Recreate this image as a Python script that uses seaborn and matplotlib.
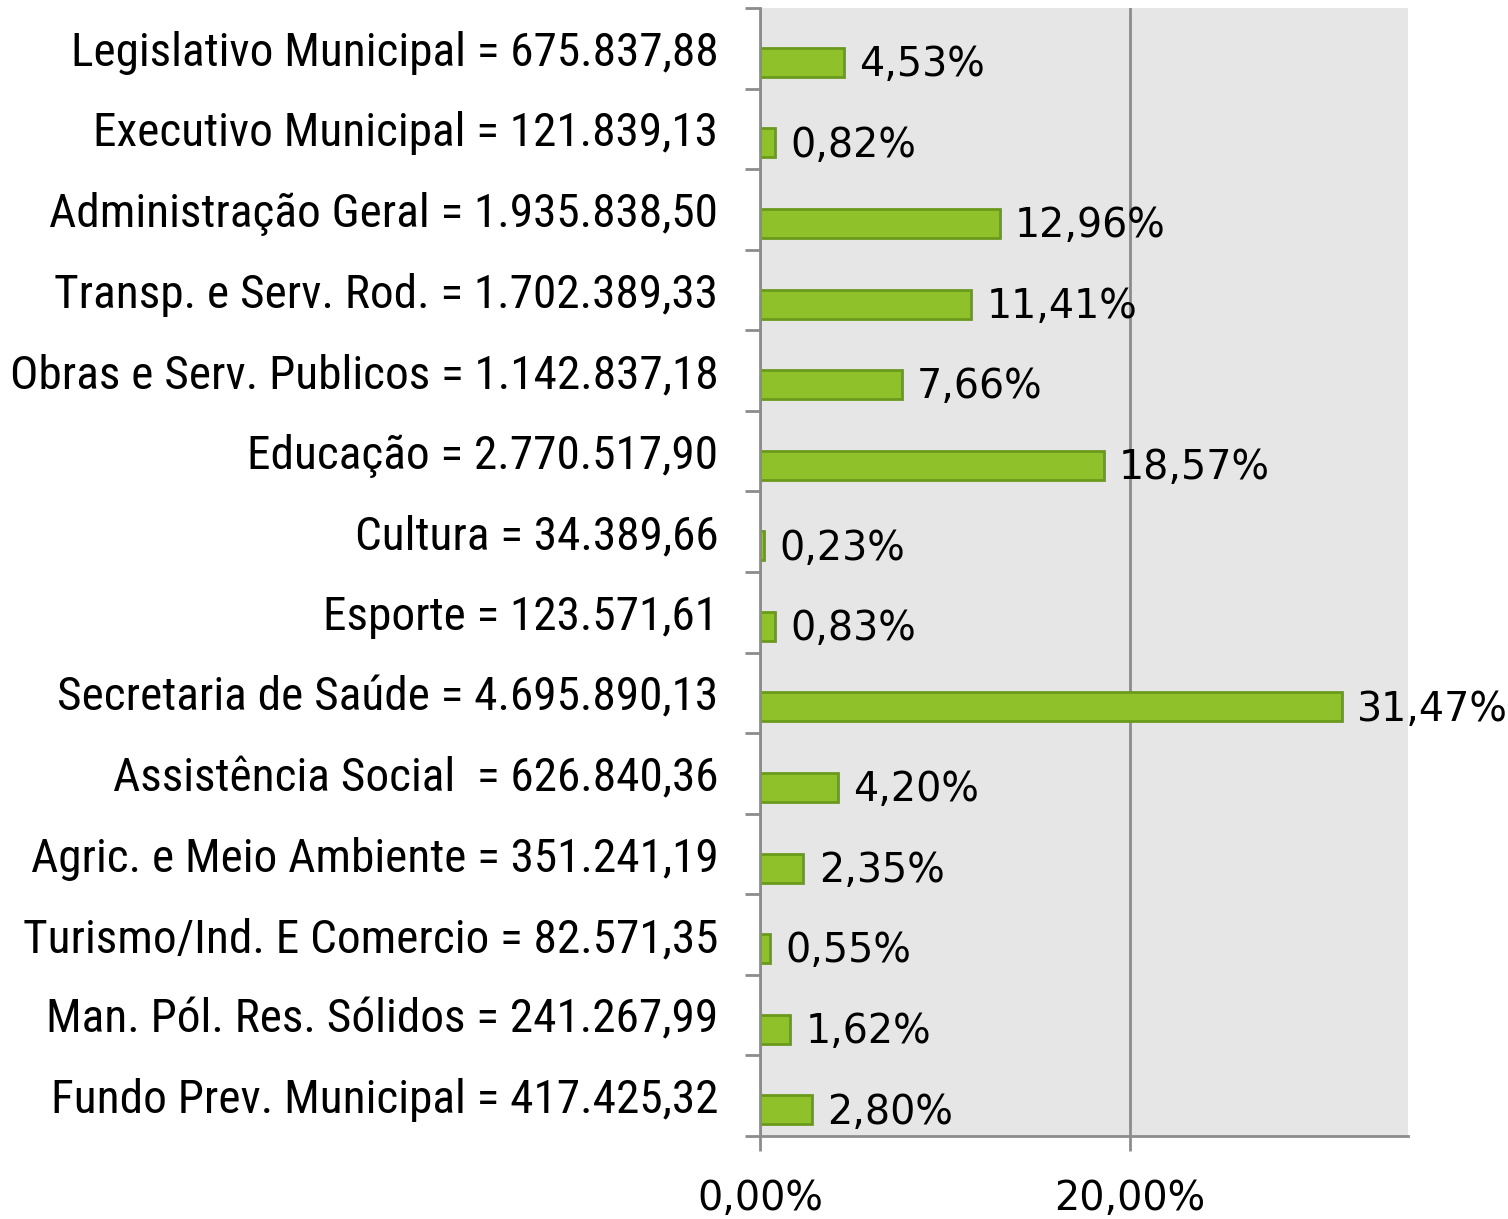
import pandas as pd
import matplotlib
matplotlib.use("Agg")
import matplotlib.pyplot as plt
import seaborn as sns
from matplotlib import font_manager
from matplotlib.ticker import FixedLocator

labels = [
    "Legislativo Municipal = 675.837,88",
    "Executivo Municipal = 121.839,13",
    "Administração Geral = 1.935.838,50",
    "Transp. e Serv. Rod. = 1.702.389,33",
    "Obras e Serv. Publicos = 1.142.837,18",
    "Educação = 2.770.517,90",
    "Cultura = 34.389,66",
    "Esporte = 123.571,61",
    "Secretaria de Saúde = 4.695.890,13",
    "Assistência Social  = 626.840,36",
    "Agric. e Meio Ambiente = 351.241,19",
    "Turismo/Ind. E Comercio = 82.571,35",
    "Man. Pól. Res. Sólidos = 241.267,99",
    "Fundo Prev. Municipal = 417.425,32",
]
percent = [4.53, 0.82, 12.96, 11.41, 7.66, 18.57, 0.23, 0.83, 31.47, 4.20, 2.35, 0.55, 1.62, 2.80]
xticks = [0, 20]

df = pd.DataFrame({"label": labels, "pct": percent})


def pick_font(names):
    for n in names:
        try:
            font_manager.findfont(font_manager.FontProperties(family=n), fallback_to_default=False)
            return n
        except Exception:
            pass
    return "DejaVu Sans"


narrow = pick_font(["Liberation Sans Narrow", "DejaVu Sans Condensed", "Roboto Condensed", "DejaVu Sans"])

sns.set_style("white")
fig = plt.figure(figsize=(15.08, 12.19), dpi=100)
ax = fig.add_axes([760 / 1508, 1 - 1136 / 1219, 648 / 1508, 1128 / 1219])
ax.set_facecolor("#e6e6e6")

sns.barplot(data=df, x="pct", y="label", color="#8fc12a", saturation=1,
            width=0.36, edgecolor="#6a9a1c", linewidth=2, ax=ax)

# bars sit a bit below the middle of each band
for p in ax.patches:
    p.set_y(p.get_y() + 0.175)

ax.set_xlim(0, 35.03)
ax.set_ylim(len(labels) - 0.5, -0.5)

for i, v in enumerate(percent):
    ax.annotate(f"{v:.2f}".replace(".", ",") + "%", xy=(v, i + 0.175),
                xytext=(11, -2), textcoords="offset points",
                va="center", ha="left", fontsize=28.5, color="black",
                family="DejaVu Sans")

ax.set_xticks(xticks)
ax.set_xticklabels([f"{t:.2f}".replace(".", ",") + "%" for t in xticks],
                   fontsize=28.5, family="DejaVu Sans", color="black")
ax.tick_params(axis="x", bottom=True, direction="out", length=11, width=2, color="#8c8c8c", pad=20)
ax.xaxis.grid(True, color="#8c8c8c", linewidth=2)
ax.set_axisbelow(True)

ax.set_yticks(range(len(labels)))
ylabs = ax.set_yticklabels(labels, fontsize=36, family=narrow, color="black")
ax.yaxis.set_minor_locator(FixedLocator([i - 0.5 for i in range(len(labels) + 1)]))
ax.tick_params(axis="y", which="major", left=True, length=0, pad=30)
ax.tick_params(axis="y", which="minor", left=True, direction="out", length=11, width=2, color="#8c8c8c")

# fit the widest category label into the space left of the axis
fig.canvas.draw()
r = fig.canvas.get_renderer()
widest = max(t.get_window_extent(r).width for t in ylabs)
size = min(36, 36 * 708 / widest)
for t in ylabs:
    t.set_fontsize(size)

ax.set_xlabel("")
ax.set_ylabel("")
for s in ["top", "right"]:
    ax.spines[s].set_visible(False)
for s in ["left", "bottom"]:
    ax.spines[s].set_color("#8c8c8c")
    ax.spines[s].set_linewidth(2)

fig.savefig("out.png", dpi=100)
